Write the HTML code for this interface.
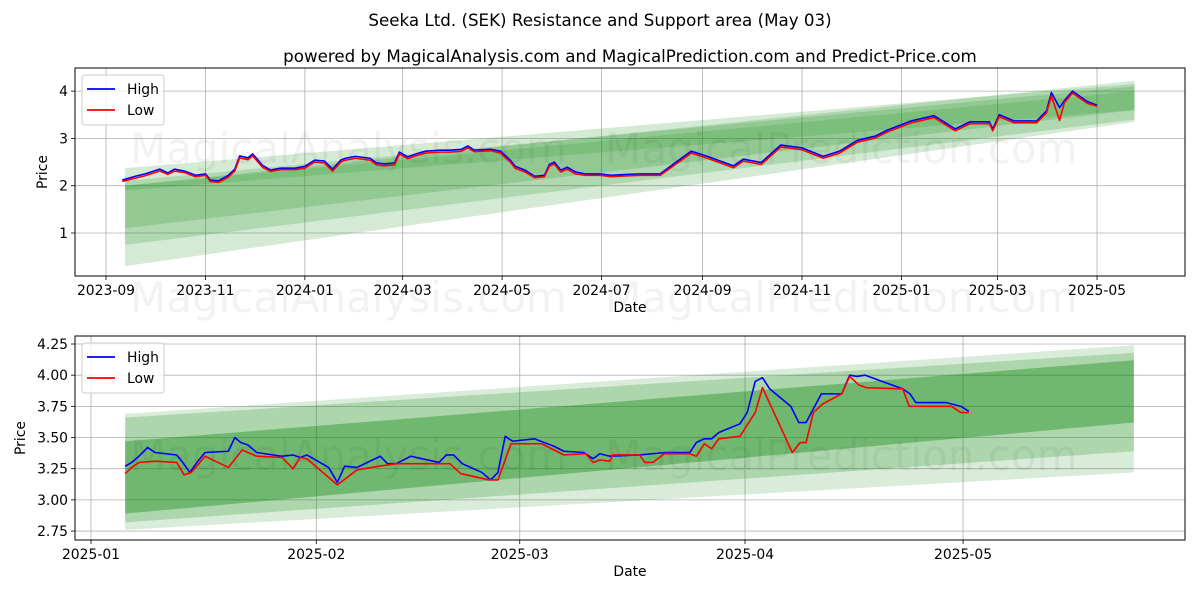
<!DOCTYPE html>
<html><head><meta charset="utf-8"><style>
body{margin:0;background:#fff;}
svg text{font-family:"DejaVu Sans","Liberation Sans",sans-serif;}
</style></head><body>
<svg id="chart" width="1200" height="600" xmlns="http://www.w3.org/2000/svg">
<rect width="1200" height="600" fill="#fff"/>
<text x="600" y="26" font-size="16.7" text-anchor="middle">Seeka Ltd. (SEK) Resistance and Support area (May 03)</text>
<text x="630" y="62" font-size="16.7" text-anchor="middle">powered by MagicalAnalysis.com and MagicalPrediction.com and Predict-Price.com</text>
<g id="top"></g>
<g id="bot"></g>
</svg>
<script>
// ---- top chart data (days since 2023-09-01) ----
const topDays=[10,18,24,33,38,42,48,55,61,64,69,75,79,82,87,90,96,101,107,116,122,128,134,139,144,147,153,162,166,171,177,180,185,190,196,205,211,218,222,226,236,242,248,251,257,263,269,272,275,279,283,288,294,303,310,315,328,340,349,359,369,385,391,402,414,427,440,450,461,472,479,494,508,521,530,542,544,548,557,571,577,580,585,588,593,602,608];
const topHigh=[2.12,2.2,2.25,2.35,2.27,2.35,2.31,2.22,2.25,2.12,2.1,2.22,2.35,2.63,2.59,2.67,2.43,2.33,2.37,2.37,2.41,2.54,2.52,2.35,2.54,2.58,2.62,2.58,2.48,2.46,2.48,2.71,2.61,2.67,2.73,2.75,2.75,2.77,2.84,2.75,2.77,2.73,2.54,2.41,2.33,2.2,2.22,2.45,2.5,2.33,2.39,2.29,2.25,2.25,2.22,2.23,2.25,2.25,2.48,2.73,2.62,2.42,2.56,2.49,2.86,2.80,2.62,2.73,2.96,3.05,3.17,3.37,3.48,3.2,3.35,3.35,3.2,3.5,3.37,3.37,3.58,3.97,3.65,3.8,4.0,3.78,3.7];
const topLow=[2.09,2.16,2.21,2.31,2.24,2.31,2.28,2.19,2.22,2.09,2.07,2.18,2.31,2.59,2.55,2.63,2.39,2.3,2.34,2.34,2.37,2.5,2.48,2.31,2.5,2.54,2.58,2.54,2.44,2.42,2.44,2.67,2.57,2.63,2.69,2.71,2.71,2.73,2.8,2.72,2.74,2.69,2.5,2.37,2.29,2.17,2.19,2.41,2.46,2.29,2.35,2.25,2.22,2.22,2.19,2.2,2.22,2.22,2.44,2.69,2.58,2.38,2.52,2.45,2.82,2.76,2.58,2.69,2.92,3.01,3.13,3.33,3.44,3.16,3.31,3.31,3.16,3.46,3.33,3.33,3.54,3.9,3.38,3.76,3.96,3.74,3.68];
const topTicks=[["2023-09",0],["2023-11",61],["2024-01",122],["2024-03",182],["2024-05",243],["2024-07",304],["2024-09",366],["2024-11",427],["2025-01",488],["2025-03",547],["2025-05",608]];
const topYTicks=[1,2,3,4];
const topBandDays=[11.7,631];
const topBands=[[0.3,2.0,3.35,4.22,0.17],[0.75,2.37,3.4,4.15,0.17],[1.1,2.1,3.6,4.1,0.17],[1.9,2.0,3.6,4.0,0.15]];
// ---- bottom chart data (days since 2025-01-01) ----
const botHighDays=[4.7,5.6,6.6,7.8,8.8,11.8,12.5,13.6,14.7,15.7,18.9,19.8,20.6,21.6,22.8,26.3,27.8,28.8,29.7,32.7,33.9,34.9,36.6,39.8,40.8,42.0,44.0,47.9,48.9,49.9,51.1,53.8,55.0,56.0,57.0,58.0,61.0,63.7,65.1,67.8,69.1,70.0,71.4,75.5,79.1,82.4,83.3,84.4,85.4,86.4,89.3,90.3,91.4,92.4,93.4,96.3,97.4,98.4,100.5,103.3,104.4,105.4,106.5,111.7,112.7,113.5,117.7,119.7,120.8];
const botHigh=[3.27,3.30,3.35,3.42,3.38,3.36,3.31,3.22,3.31,3.38,3.39,3.50,3.46,3.44,3.38,3.35,3.36,3.34,3.36,3.26,3.14,3.27,3.26,3.35,3.29,3.29,3.35,3.30,3.36,3.36,3.29,3.22,3.16,3.22,3.51,3.47,3.49,3.43,3.39,3.38,3.33,3.37,3.35,3.36,3.38,3.38,3.46,3.49,3.49,3.54,3.61,3.70,3.95,3.98,3.89,3.75,3.62,3.62,3.85,3.85,4.0,3.99,4.0,3.89,3.85,3.78,3.78,3.75,3.71];
const botLowDays=[4.7,5.6,6.6,8.8,11.8,12.8,13.8,15.7,18.9,20.8,22.8,26.3,27.8,28.8,29.7,33.9,36.6,39.6,42.0,49.4,50.9,54.8,56.0,57.8,62.0,65.1,68.1,69.1,70.0,71.4,71.8,75.5,76.2,77.3,78.9,82.4,83.3,84.4,85.4,86.4,89.3,91.4,92.4,96.5,97.6,98.4,99.4,100.7,103.3,104.4,105.7,106.7,111.7,112.6,118.4,119.7,120.8];
const botLow=[3.21,3.26,3.30,3.31,3.30,3.20,3.22,3.35,3.26,3.40,3.35,3.34,3.25,3.34,3.33,3.12,3.24,3.27,3.29,3.29,3.21,3.16,3.16,3.45,3.45,3.36,3.37,3.30,3.32,3.31,3.36,3.36,3.30,3.30,3.37,3.37,3.35,3.45,3.41,3.49,3.51,3.70,3.90,3.38,3.46,3.46,3.70,3.77,3.85,3.99,3.92,3.90,3.89,3.75,3.75,3.70,3.70];
const botTicks=[["2025-01",0],["2025-02",31],["2025-03",59],["2025-04",90],["2025-05",120]];
const botYTicks=[2.75,3.00,3.25,3.50,3.75,4.00,4.25];
const botBandDays=[4.7,143.5];
const botBands=[[2.76,3.69,3.22,4.24,0.15],[2.82,3.66,3.39,4.18,0.2],[2.89,3.47,3.62,4.12,0.35]];

const NS="http://www.w3.org/2000/svg";
function mk(parent,tag,attrs){const e=document.createElementNS(NS,tag);for(const k in attrs)e.setAttribute(k,attrs[k]);parent.appendChild(e);return e;}

function panel(g,cfg){
  const {L,R,T,B,xs,ys}=cfg;
  cfg.xticks.forEach(t=>{const x=xs(t[1]);
    const gl=mk(g,'line',{x1:x,x2:x,y1:T,y2:B,stroke:'#b0b0b0','stroke-width':0.8});
    
    
    mk(g,'line',{x1:x,x2:x,y1:B,y2:B+4,stroke:'#000','stroke-width':0.8});
    const tx=mk(g,'text',{x:x,y:B+19,'font-size':13.9,'text-anchor':'middle'});tx.textContent=t[0];
    
    
  });
  cfg.yticks.forEach(v=>{const y=ys(v);
    const gl=mk(g,'line',{x1:L,x2:R,y1:y,y2:y,stroke:'#b0b0b0','stroke-width':0.8});
    
    
    mk(g,'line',{x1:L-4,x2:L,y1:y,y2:y,stroke:'#000','stroke-width':0.8});
    const tx=mk(g,'text',{x:L-7,y:y+5,'font-size':13.9,'text-anchor':'end'});tx.textContent=cfg.fmt(v);
    
    
  });
  cfg.bands.forEach(b=>{const x0=xs(cfg.bandDays[0]),x1=xs(cfg.bandDays[1]);
    const p=mk(g,'polygon',{points:`${x0},${ys(b[0])} ${x0},${ys(b[1])} ${x1},${ys(b[3])} ${x1},${ys(b[2])}`,fill:'green','fill-opacity':b[4]});
    
    
  });
  cfg.marks.forEach(m=>{const t=mk(g,'text',{x:m[1],y:m[2],'font-size':42,fill:'#000','fill-opacity':0.05});t.textContent=m[0];
    
    
  });
  const line=(d,v,c,name)=>{const p=mk(g,'polyline',{points:d.map((x,i)=>xs(x)+','+ys(v[i])).join(' '),fill:'none',stroke:c,'stroke-width':1.6,'stroke-linejoin':'round'});
    
    };
  line(cfg.hd,cfg.hv,'#0000ff','high-line');
  line(cfg.ld,cfg.lv,'#ff0000','low-line');
  mk(g,'rect',{x:L,y:T,width:R-L,height:B-T,fill:'none',stroke:'#000','stroke-width':1});
  const lg=mk(g,'g',{});
  
  
  mk(lg,'rect',{x:L+7,y:T+7,width:82,height:50,rx:3,fill:'#fff','fill-opacity':0.8,stroke:'#ccc'});
  [['High','#0000ff'],['Low','#ff0000']].forEach((e,i)=>{const y=T+21+i*21;
    mk(lg,'line',{x1:L+12,x2:L+40,y1:y,y2:y,stroke:e[1],'stroke-width':1.8});
    const t=mk(lg,'text',{x:L+52,y:y+5,'font-size':13.9});t.textContent=e[0];
    
    });
  const xl=mk(g,'text',{x:(L+R)/2,y:B+36,'font-size':13.9,'text-anchor':'middle'});xl.textContent='Date';
  
  
  const yl=mk(g,'text',{x:cfg.ylx,y:(T+B)/2,'font-size':13.9,'text-anchor':'middle',transform:`rotate(-90 ${cfg.ylx} ${(T+B)/2})`});yl.textContent='Price';
  
  
}
panel(document.getElementById('top'),{L:75,R:1185,T:68,B:276,xs:d=>106+d*1.63,ys:v=>280.3-47.3*v,
  xticks:topTicks,yticks:topYTicks,fmt:v=>String(v),bands:topBands,bandDays:topBandDays,
  hd:topDays,hv:topHigh,ld:topDays,lv:topLow,ylx:47,
  marks:[['MagicalAnalysis.com',130,163],['MagicalPrediction.com',605,163],['MagicalAnalysis.com',130,312],['MagicalPrediction.com',605,312]]});
panel(document.getElementById('bot'),{L:75,R:1185,T:336,B:540,xs:d=>91+d*7.267,ys:v=>344+(4.25-v)*124.7,
  xticks:botTicks,yticks:botYTicks,fmt:v=>v.toFixed(2),bands:botBands,bandDays:botBandDays,
  hd:botHighDays,hv:botHigh,ld:botLowDays,lv:botLow,ylx:25,
  marks:[['MagicalAnalysis.com',130,470],['MagicalPrediction.com',605,470]]});
</script>
</body></html>
